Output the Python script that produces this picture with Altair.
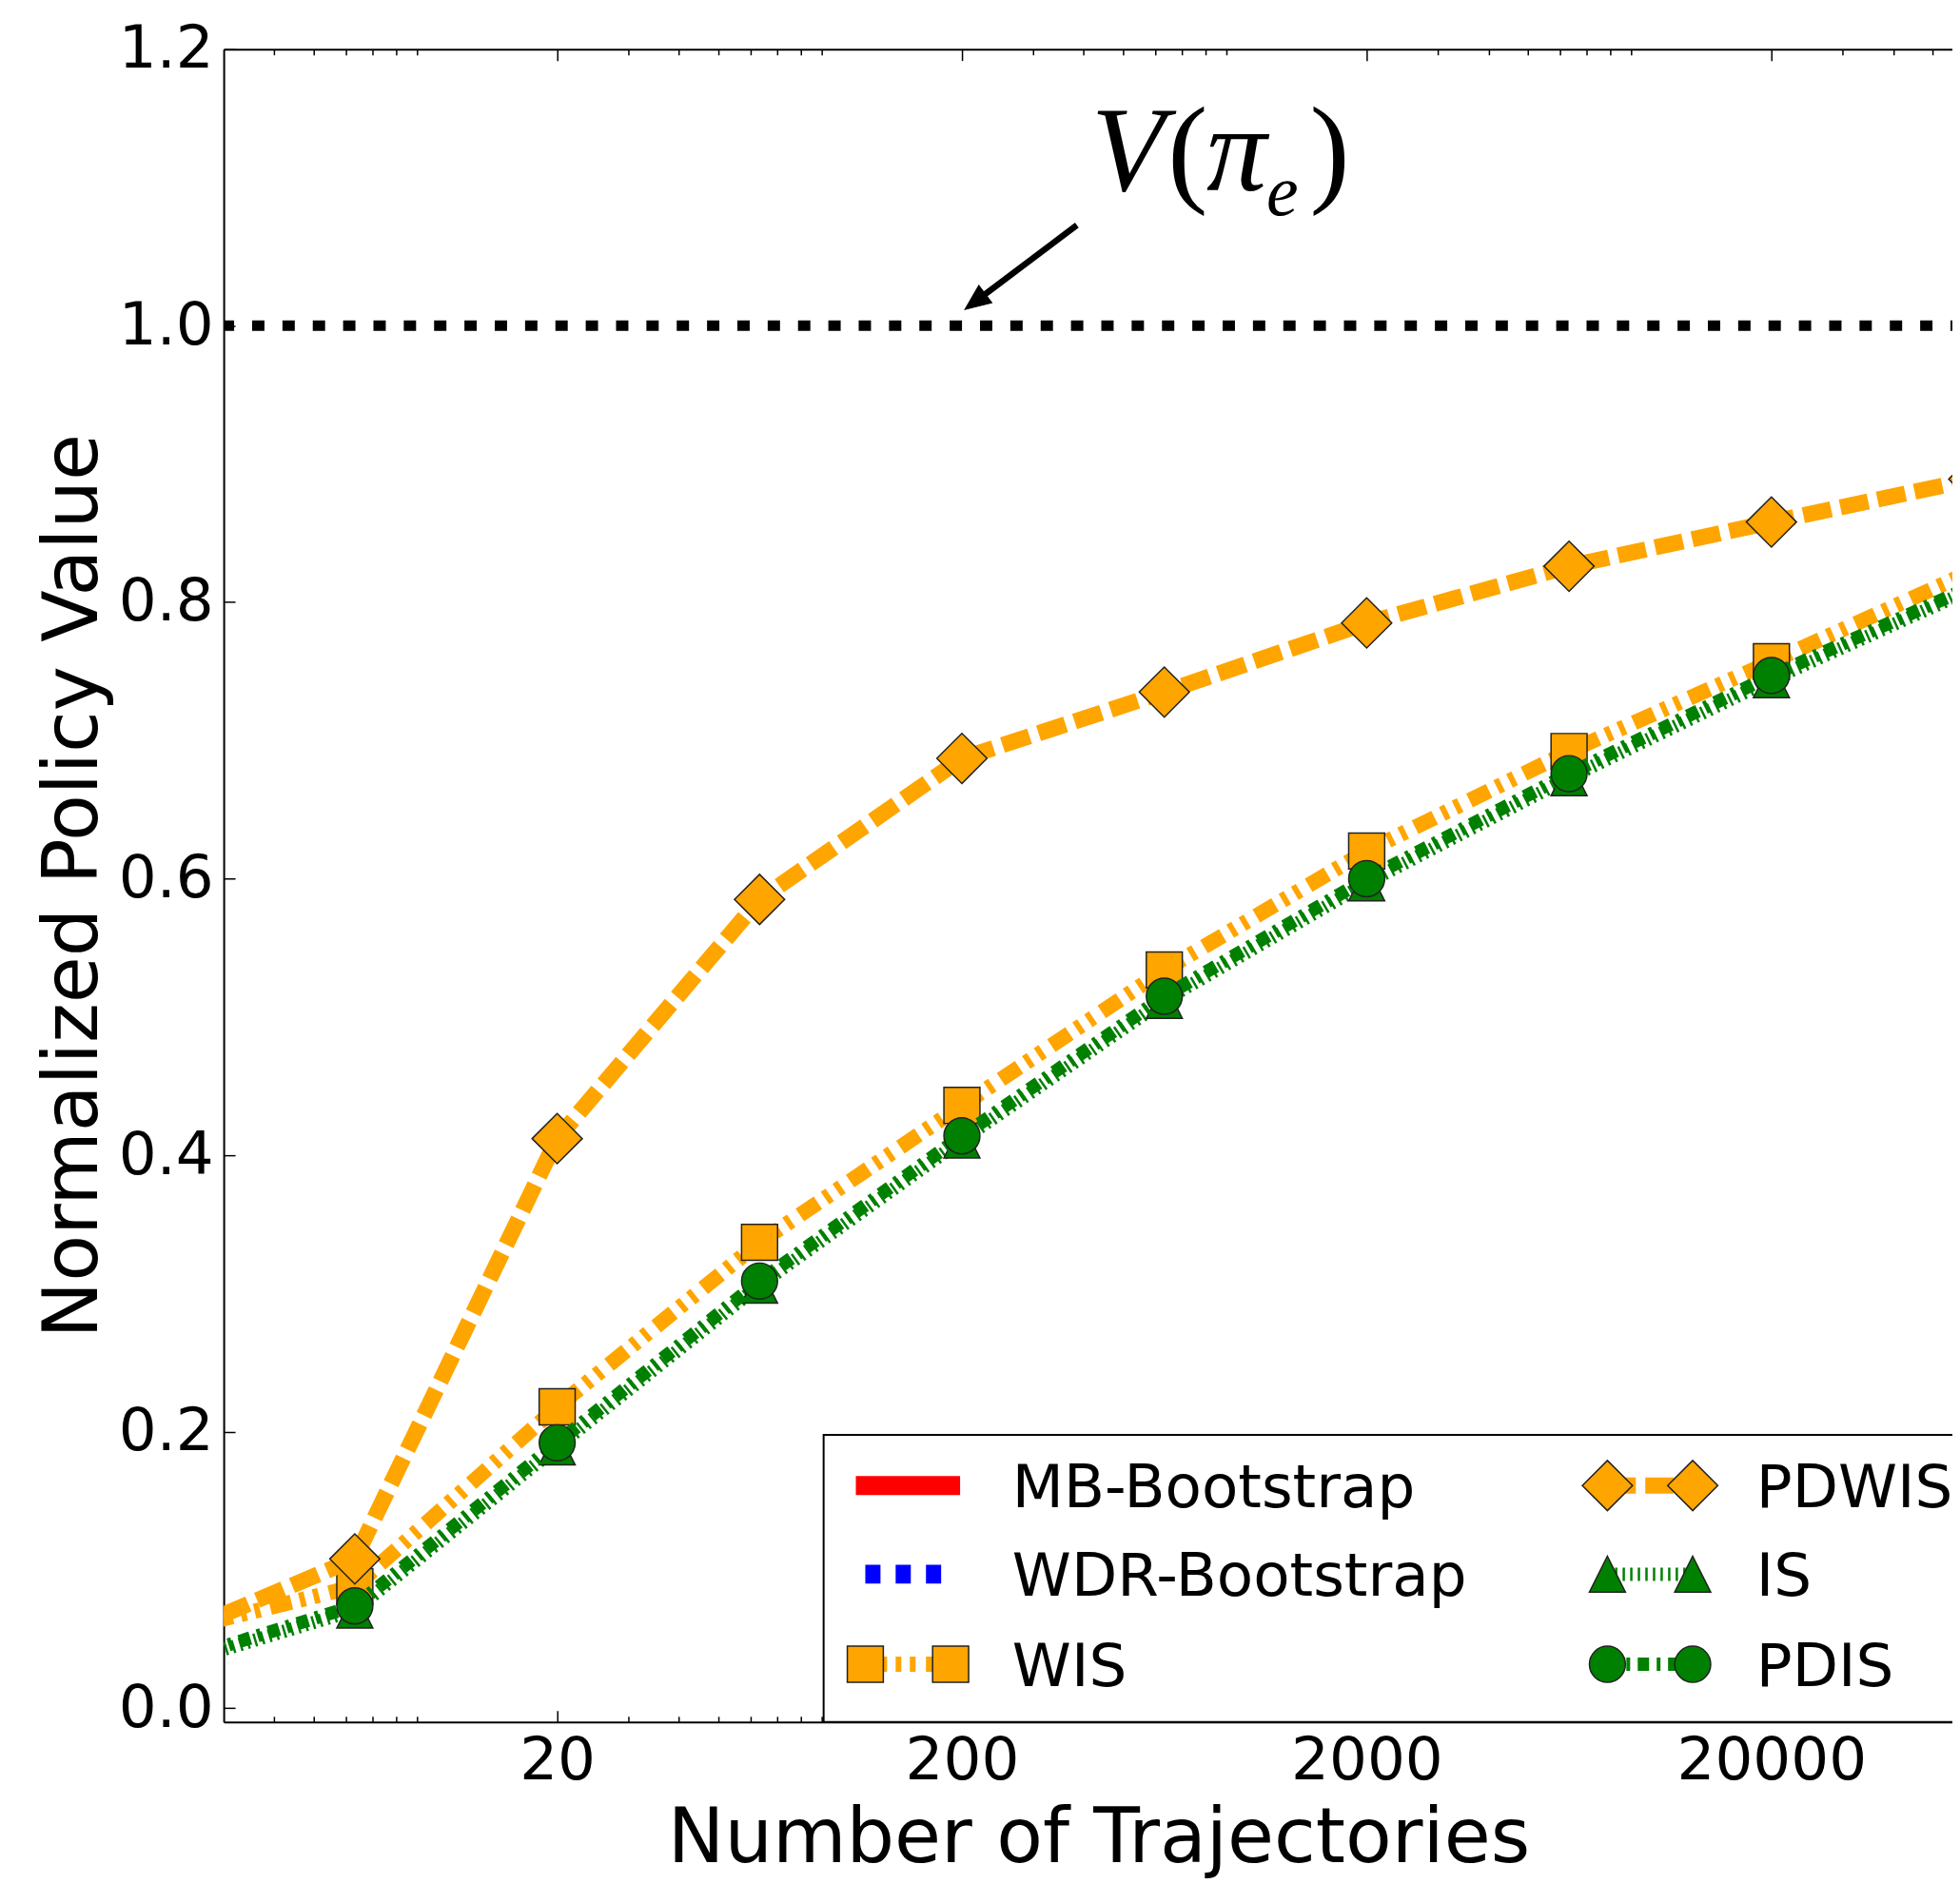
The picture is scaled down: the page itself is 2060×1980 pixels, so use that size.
import altair as alt
import pandas as pd

# ---------------- data ----------------
N_TRAJ = [2, 6.325, 20, 63.25, 200, 632.5, 2000, 6325, 20000, 63246]
WIS = [0.052, 0.088, 0.218, 0.337, 0.436, 0.534, 0.620, 0.692, 0.757, 0.823]
PDWIS = [0.046, 0.108, 0.412, 0.585, 0.687, 0.735, 0.785, 0.826, 0.858, 0.889]
IS = [0.027, 0.071, 0.189, 0.306, 0.411, 0.512, 0.597, 0.673, 0.744, 0.810]
PDIS = [0.029, 0.074, 0.192, 0.309, 0.414, 0.515, 0.600, 0.676, 0.747, 0.812]
REF_VALUE = 1.0

X_MAJOR = [20, 200, 2000, 20000]
X_MINOR = [4, 5, 6, 7, 8, 9, 30, 40, 50, 60, 70, 80, 90,
           300, 400, 500, 600, 700, 800, 900,
           3000, 4000, 5000, 6000, 7000, 8000, 9000,
           30000, 40000, 50000]
Y_TICKS = [0.0, 0.2, 0.4, 0.6, 0.8, 1.0, 1.2]

LEGEND_LABELS = ["MB-Bootstrap", "WDR-Bootstrap", "WIS", "PDWIS", "IS", "PDIS"]

# annotation V(pi_e) and arrow (data coordinates)
ANN_ITALIC_TXT = ["V", "π"]
ANN_ITALIC_N = [515.0, 954.0]
ANN_ITALIC_V = [1.098, 1.098]
ANN_PAREN_TXT = ["(", ")"]
ANN_PAREN_N = [722.6, 1620.0]
ANN_PAREN_V = [1.098, 1.098]
ANN_SUB_TXT = ["e"]
ANN_SUB_N = [1238.0]
ANN_SUB_V = [1.080]
ARROW_FROM = (384.6, 1.0727)
ARROW_HEAD = (215.6, 1.0173)

# ---------------- layout / style ----------------
W, H = 1824, 1765
X_DOMAIN = [3, 55990]
Y_DOMAIN = [-0.01, 1.2]
FONT = "DejaVu Sans"
SERIF = "Liberation Serif"
ORANGE = "#FFA500"
GREEN = "#008000"
EDGE = "#222222"

xs = alt.Scale(type="log", domain=X_DOMAIN, nice=False)
ys = alt.Scale(domain=Y_DOMAIN, nice=False, zero=False)

ONE = pd.DataFrame({"k": [0]})


def sdf(vals):
    return pd.DataFrame({"n": N_TRAJ, "v": vals})


def tick_axis(orient, values, size, offset, domain=False):
    return alt.Axis(orient=orient, values=values, labels=False, ticks=True,
                    tickSize=size, tickWidth=1.5, tickColor="black",
                    domain=domain, domainColor="black", domainWidth=2,
                    offset=offset, title=None, grid=False)


AX_X_LAB = alt.Axis(orient="bottom", values=X_MAJOR, format="d", ticks=False, tickSize=0,
                    labelPadding=10, labelFont=FONT, labelFontSize=63, labelColor="black",
                    labelFlush=False, labelOverlap=False, labelLimit=1000,
                    domain=True, domainColor="black", domainWidth=2, grid=False,
                    title="Number of Trajectories", titleFont=FONT, titleFontSize=80,
                    titleFontWeight="normal", titleColor="black", titleX=923, titleY=147,
                    titleAlign="center", titleBaseline="alphabetic", titleLimit=3000)
AX_X_BOT_MAJ = tick_axis("top", X_MAJOR, 12, -H)
AX_X_BOT_MIN = tick_axis("top", X_MINOR, 6, -H)
AX_X_TOP_MAJ = tick_axis("bottom", X_MAJOR, 12, -H, domain=True)
AX_X_TOP_MIN = tick_axis("bottom", X_MINOR, 6, -H)
AX_Y_LAB = alt.Axis(orient="left", values=Y_TICKS, format=".1f", ticks=False, tickSize=0,
                    labelPadding=11, labelFont=FONT, labelFontSize=63, labelColor="black",
                    labelFlush=False, labelOverlap=False, labelLimit=1000,
                    domain=True, domainColor="black", domainWidth=2, grid=False,
                    title="Normalized Policy Value", titleFont=FONT, titleFontSize=80,
                    titleFontWeight="normal", titleColor="black", titleX=-134, titleY=882.5,
                    titleAngle=270, titleAlign="center", titleBaseline="alphabetic",
                    titleLimit=3000)
AX_Y_TICKS = tick_axis("right", Y_TICKS, 12, -W)


def line_layer(vals, color, width, dash, xaxis=None, yaxis=None, offset=0):
    return alt.Chart(sdf(vals)).mark_line(
        color=color, strokeWidth=width, strokeDash=dash, strokeDashOffset=offset,
        strokeCap="butt", clip=True
    ).encode(x=alt.X("n:Q", scale=xs, axis=xaxis), y=alt.Y("v:Q", scale=ys, axis=yaxis))


def point_layer(vals, shape, color, size, xaxis=None):
    return alt.Chart(sdf(vals)).mark_point(
        shape=shape, filled=True, fill=color, stroke=EDGE, strokeWidth=1.5,
        size=size, opacity=1, fillOpacity=1, clip=True
    ).encode(x=alt.X("n:Q", scale=xs, axis=xaxis), y=alt.Y("v:Q", scale=ys, axis=None))


TRI = "M0,-1L1,1L-1,1Z"
DASH_PDWIS = [30, 10]
DASH_WIS = [23, 9, 6, 9, 6, 11]
DASH_IS = [2.5, 5.5]
DASH_PDIS = [12, 8, 4, 8]
LW_PDWIS, LW_WIS, LW_IS, LW_PDIS = 17, 16, 14, 14
DIAMOND_SIZE = 2800

layers = []
# reference line at V(pi_e)
layers.append(alt.Chart(ONE).mark_rule(color="black", strokeWidth=11, strokeDash=[13, 19],
                                       strokeDashOffset=11, strokeCap="butt").encode(
    y=alt.Y(datum=REF_VALUE, scale=ys, axis=None)))
# WIS
layers.append(line_layer(WIS, ORANGE, LW_WIS, DASH_WIS, xaxis=AX_X_LAB, yaxis=AX_Y_LAB))
layers.append(point_layer(WIS, "square", ORANGE, 1444, xaxis=AX_X_BOT_MAJ))
# PDWIS
layers.append(line_layer(PDWIS, ORANGE, LW_PDWIS, DASH_PDWIS, xaxis=AX_X_BOT_MIN, yaxis=AX_Y_TICKS))
layers.append(point_layer(PDWIS, "diamond", ORANGE, DIAMOND_SIZE, xaxis=AX_X_TOP_MAJ))
# IS
layers.append(line_layer(IS, GREEN, LW_IS, DASH_IS, xaxis=AX_X_TOP_MIN))
layers.append(point_layer(IS, TRI, GREEN, 1444))
# PDIS
layers.append(line_layer(PDIS, GREEN, LW_PDIS, DASH_PDIS))
layers.append(point_layer(PDIS, "circle", GREEN, 1444))

# annotation
arrow_df = pd.DataFrame({"n": [ARROW_FROM[0]], "v": [ARROW_FROM[1]],
                         "n2": [ARROW_HEAD[0]], "v2": [ARROW_HEAD[1]]})
layers.append(alt.Chart(arrow_df).mark_rule(color="black", strokeWidth=6.5).encode(
    x=alt.X("n:Q", scale=xs, axis=None), y=alt.Y("v:Q", scale=ys, axis=None),
    x2="n2:Q", y2="v2:Q"))
head_df = pd.DataFrame({"n": [ARROW_HEAD[0]], "v": [ARROW_HEAD[1]]})
layers.append(alt.Chart(head_df).mark_point(shape="M0,-1L0.85,1L-0.85,1Z", filled=True,
                                            fill="black", stroke="black", strokeWidth=1,
                                            size=729, angle=233, opacity=1).encode(
    x=alt.X("n:Q", scale=xs, axis=None), y=alt.Y("v:Q", scale=ys, axis=None)))


def ann_layer(txts, ns, vs, size, italic):
    d = pd.DataFrame({"t": txts, "n": ns, "v": vs})
    return alt.Chart(d).mark_text(font=SERIF, fontSize=size, fontStyle="italic" if italic else "normal",
                                  align="center", baseline="alphabetic", color="black").encode(
        x=alt.X("n:Q", scale=xs, axis=None), y=alt.Y("v:Q", scale=ys, axis=None), text="t:N")


layers.append(ann_layer(ANN_ITALIC_TXT, ANN_ITALIC_N, ANN_ITALIC_V, 127, True))
layers.append(ann_layer(ANN_PAREN_TXT, ANN_PAREN_N, ANN_PAREN_V, 127, False))
layers.append(ann_layer(ANN_SUB_TXT, ANN_SUB_N, ANN_SUB_V, 76, True))

# ---------------- legend (drawn by hand) ----------------
LG_BOX = (633, 2000, 1462, H)
ROWS = [1515.5, 1609, 1704]
COL_MARK = [(677, 767), (1460, 1550)]
COL_TEXT = [832, 1617]


def lg_line(x1, x2, y, color, width, dash=None):
    kw = dict(color=color, strokeWidth=width, strokeCap="butt")
    if dash:
        kw["strokeDash"] = dash
    return alt.Chart(ONE).mark_rule(**kw).encode(x=alt.value(x1), x2=alt.value(x2), y=alt.value(y))


def lg_mark(x, y, shape, color, size):
    return alt.Chart(ONE).mark_point(shape=shape, filled=True, fill=color, stroke=EDGE,
                                     strokeWidth=1.5, size=size, opacity=1).encode(
        x=alt.value(x), y=alt.value(y))


def lg_text(x, y, label):
    return alt.Chart(ONE).mark_text(font=FONT, fontSize=63, align="left", baseline="alphabetic",
                                    color="black", text=label).encode(x=alt.value(x), y=alt.value(y + 23))


layers.append(alt.Chart(ONE).mark_rect(fill="white", stroke="black", strokeWidth=2).encode(
    x=alt.value(LG_BOX[0]), x2=alt.value(LG_BOX[1]), y=alt.value(LG_BOX[2]), y2=alt.value(LG_BOX[3])))
# left column
layers.append(lg_line(667, 777, ROWS[0], "#FF0000", 20))
layers.append(lg_text(COL_TEXT[0], ROWS[0], LEGEND_LABELS[0]))
layers.append(lg_line(677, 757, ROWS[1], "#0000FF", 20, [16, 16]))
layers.append(lg_text(COL_TEXT[0], ROWS[1], LEGEND_LABELS[1]))
layers.append(lg_line(COL_MARK[0][0], COL_MARK[0][1], ROWS[2], ORANGE, LW_WIS, DASH_WIS))
for xm in COL_MARK[0]:
    layers.append(lg_mark(xm, ROWS[2], "square", ORANGE, 1444))
layers.append(lg_text(COL_TEXT[0], ROWS[2], LEGEND_LABELS[2]))
# right column
layers.append(lg_line(COL_MARK[1][0], COL_MARK[1][1], ROWS[0], ORANGE, LW_PDWIS, DASH_PDWIS))
for xm in COL_MARK[1]:
    layers.append(lg_mark(xm, ROWS[0], "diamond", ORANGE, DIAMOND_SIZE))
layers.append(lg_text(COL_TEXT[1], ROWS[0], LEGEND_LABELS[3]))
layers.append(lg_line(COL_MARK[1][0], COL_MARK[1][1], ROWS[1], GREEN, LW_IS, DASH_IS))
for xm in COL_MARK[1]:
    layers.append(lg_mark(xm, ROWS[1], TRI, GREEN, 1444))
layers.append(lg_text(COL_TEXT[1], ROWS[1], LEGEND_LABELS[4]))
layers.append(lg_line(COL_MARK[1][0], COL_MARK[1][1], ROWS[2], GREEN, LW_PDIS, DASH_PDIS))
for xm in COL_MARK[1]:
    layers.append(lg_mark(xm, ROWS[2], "circle", GREEN, 1444))
layers.append(lg_text(COL_TEXT[1], ROWS[2], LEGEND_LABELS[5]))

chart = alt.layer(*layers).resolve_axis(x="independent", y="independent").properties(
    width=W, height=H,
    padding={"left": 228, "top": 40, "right": 0, "bottom": 165},
    autosize=alt.AutoSizeParams(type="none"),
    background="white",
).configure_view(stroke=None)

chart.save("out.html", embed_options={"renderer": "svg", "actions": False})
